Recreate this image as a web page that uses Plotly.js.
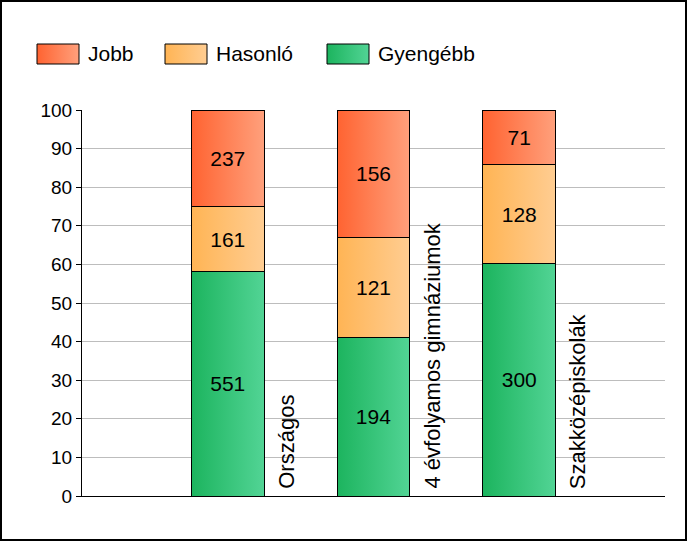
<!DOCTYPE html>
<html>
<head>
<meta charset="utf-8">
<script src="https://cdn.plot.ly/plotly-3.0.1.min.js"></script>
<style>
  html, body { margin: 0; padding: 0; background: #fff; }
  #frame { width: 683px; height: 537px; border: 2px solid #000; }
  #chart { width: 683px; height: 537px; }
</style>
</head>
<body>
<div id="frame"><div id="chart"></div></div>
<script>
// Adatok
const categories = ['Országos', '4 évfolyamos gimnáziumok', 'Szakközépiskolák'];
const seriesNames = ['Gyengébb', 'Hasonló', 'Jobb'];
const gyengebb = [551, 194, 300];
const hasonlo = [161, 121, 128];
const jobb = [237, 156, 71];

// színátmenetek (bal -> jobb)
const gradLeft = ['#1cb45e', '#ffb454', '#ff6331'];
const gradRight = ['#52d495', '#ffcd92', '#ffa07c'];
const flatColors = ['#37c47a', '#ffc173', '#ff8257'];

const FONT = 'Liberation Sans, Arial, sans-serif';
const W = 683, H = 537;
const M = { l: 80, r: 20, t: 108, b: 43 };
const PW = W - M.l - M.r, PH = H - M.t - M.b;
const px = x => (x - M.l) / PW;
const py = y => 1 - (y - M.t) / PH;

const values = [gyengebb, hasonlo, jobb];
const traces = values.map((vals, i) => ({
    type: 'bar',
    x: categories,
    y: vals,
    text: vals.map(String),
    texttemplate: '%{text}',
    textposition: 'inside',
    insidetextanchor: 'middle',
    textangle: 0,
    constraintext: 'none',
    textfont: { family: FONT, size: 21, color: '#000' },
    name: seriesNames[i],
    marker: { color: flatColors[i], line: { color: '#000', width: 1 } },
    hoverinfo: 'none'
}));

// saját jelmagyarázat (széles téglalapok)
const legendOrder = [2, 1, 0];
const legendX = [35, 163, 325];
const shapes = [];
const annotations = [];
legendOrder.forEach((si, k) => {
    shapes.push({
        type: 'rect', xref: 'paper', yref: 'paper',
        x0: px(legendX[k]), x1: px(legendX[k] + 42),
        y0: py(42), y1: py(62),
        fillcolor: flatColors[si], line: { color: '#000', width: 1 }
    });
    annotations.push({
        xref: 'paper', yref: 'paper', x: px(legendX[k] + 49), y: py(52),
        xanchor: 'left', yanchor: 'middle', showarrow: false,
        text: seriesNames[si],
        font: { family: FONT, size: 21, color: '#000' }
    });
});

// kategória feliratok a oszlopok mellett, függőlegesen
categories.forEach(c => {
    annotations.push({
        x: c, y: 0, xref: 'x', yref: 'y',
        xanchor: 'center', yanchor: 'bottom',
        xshift: 58, yshift: 5,
        textangle: -90, showarrow: false,
        text: c,
        font: { family: FONT, size: 22, color: '#000' }
    });
});

const layout = {
    width: W, height: H,
    margin: M,
    barmode: 'stack',
    barnorm: 'percent',
    bargap: 0.5,
    showlegend: false,
    paper_bgcolor: '#fff',
    plot_bgcolor: '#fff',
    font: { family: FONT, color: '#000' },
    xaxis: {
        type: 'category',
        range: [-1, 3],
        showticklabels: false,
        ticks: '',
        showgrid: false,
        showline: true, linecolor: '#000', linewidth: 1,
        fixedrange: true
    },
    yaxis: {
        range: [0, 100],
        dtick: 10,
        ticks: 'outside', ticklen: 5, tickcolor: '#000',
        showline: true, linecolor: '#000', linewidth: 1,
        gridcolor: '#bdbdbd',
        zeroline: false,
        tickfont: { size: 19, color: '#000' },
        fixedrange: true
    },
    shapes: shapes,
    annotations: annotations
};

Plotly.newPlot('chart', traces, layout, { staticPlot: true, displayModeBar: false }).then(gd => {
    // vízszintes színátmenet a oszlopokra és a jelmagyarázatra
    const svgNS = 'http://www.w3.org/2000/svg';
    const defs = gd.querySelector('svg.main-svg defs');
    gradLeft.forEach((c, i) => {
        const g = document.createElementNS(svgNS, 'linearGradient');
        g.setAttribute('id', 'grad' + i);
        g.setAttribute('x1', '0'); g.setAttribute('x2', '1');
        g.setAttribute('y1', '0'); g.setAttribute('y2', '0');
        [[0, c], [1, gradRight[i]]].forEach(([o, col]) => {
            const s = document.createElementNS(svgNS, 'stop');
            s.setAttribute('offset', o);
            s.setAttribute('stop-color', col);
            g.appendChild(s);
        });
        defs.appendChild(g);
    });
    gd.querySelectorAll('.barlayer .trace').forEach((tr, i) => {
        tr.querySelectorAll('.point path').forEach(p => { p.style.fill = `url(#grad${i})`; });
    });
    gd.querySelectorAll('.shapelayer path').forEach((p, k) => {
        p.style.fill = `url(#grad${legendOrder[k]})`;
        p.style.fillOpacity = 1;
    });
});
</script>
</body>
</html>
